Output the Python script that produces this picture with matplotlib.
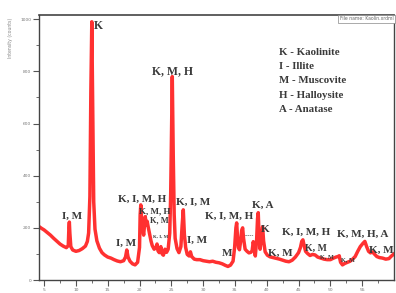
import matplotlib
matplotlib.use("Agg")
import matplotlib.pyplot as plt

two_theta = [4.2, 4.6, 5.0, 5.5, 6.0, 6.5, 7.0, 7.5, 8.0, 8.5, 8.8, 8.9, 8.97, 9.05, 9.2, 9.5,
             10.0, 10.5, 11.0, 11.5, 11.8, 12.0, 12.2, 12.35, 12.5, 12.65, 12.8, 13.0, 13.3,
             13.7, 14.1, 14.5, 15.0, 15.5, 16.0, 16.5, 17.0, 17.5, 17.8, 18.0, 18.2, 18.5,
             18.9, 19.3, 19.7, 20.0, 20.1, 20.2, 20.35, 20.5, 20.65, 20.8, 20.9, 21.05,
             21.2, 21.35, 21.6, 21.8, 22.0, 22.3, 22.6, 22.75, 22.9, 23.1, 23.35, 23.55,
             23.75, 24.0, 24.25, 24.5, 24.75, 24.9, 25.05, 25.15, 25.3, 25.45, 25.6, 25.9,
             26.2, 26.5, 26.7, 26.88, 27.05, 27.25, 27.5, 27.8, 28.0, 28.2, 28.6, 29.0,
             29.5, 30.0, 30.5, 31.0, 31.5, 32.0, 32.5, 33.0, 33.5, 33.9, 34.3, 34.7, 34.95,
             35.15, 35.27, 35.4, 35.55, 35.71, 35.9, 36.05, 36.21, 36.35, 36.6, 36.9, 37.2,
             37.5, 37.7, 37.88, 38.05, 38.2, 38.4, 38.55, 38.66, 38.8, 38.95, 39.15, 39.35,
             39.5, 39.75, 40.1, 40.5, 41.0, 41.5, 42.0, 42.5, 43.0, 43.5, 44.0, 44.5, 45.0,
             45.3, 45.5, 45.68, 45.85, 46.1, 46.4, 46.8, 47.2, 47.6, 48.0, 48.5, 49.0, 49.5,
             50.0, 50.5, 50.9, 51.2, 51.39, 51.6, 51.9, 52.3, 52.7, 53.1, 53.5, 53.9, 54.3,
             54.7, 55.1, 55.42, 55.7, 56.0, 56.3, 56.6, 56.9, 57.3, 57.7, 58.2, 58.7, 59.2,
             59.6, 60.0]
counts = [205, 198, 192, 182, 172, 160, 149, 138, 130, 124, 132, 200, 222, 180, 128, 115,
          110, 113, 120, 130, 148, 180, 320, 720, 990, 640, 300, 195, 150,
          122, 105, 96, 88, 84, 78, 73, 70, 74, 88, 115, 88, 72,
          62, 58, 68, 125, 250, 288, 225, 192, 172, 215, 243, 212,
          225, 205, 175, 150, 132, 118, 125, 138, 112, 105, 128, 100,
          95, 118, 106, 118, 180, 330, 620, 780, 480, 250, 160, 120,
          105, 128, 210, 269, 175, 125, 98, 92, 108, 90, 80, 78,
          78, 74, 72, 70, 72, 68, 66, 62, 56, 52, 57, 72, 125,
          200, 219, 165, 125, 116, 150, 190, 200, 160, 118, 110, 104,
          106, 112, 147, 120, 92, 150, 235, 258, 165, 118, 160, 204,
          150, 108, 95, 89, 86, 83, 80, 76, 72, 70, 76, 88, 105,
          125, 148, 154, 135, 110, 102, 94, 98, 96, 88, 84, 80, 78,
          78, 84, 88, 90, 93, 68, 58, 64, 68, 72, 80, 90, 110,
          128, 140, 148, 128, 110, 104, 108, 100, 90, 86, 84, 80, 82,
          92, 100]

x_ticks = [5, 10, 15, 20, 25, 30, 35, 40, 45, 50, 55]
y_ticks = [0, 200, 400, 600, 800, 1000]

legend_lines = ["K - Kaolinite", "I - Illite", "M - Muscovite", "H - Halloysite", "A - Anatase"]

# (label, 2theta, intensity, fontsize)
peak_labels = [
    ("K", 13.6, 974, 8.5),
    ("K, M, H", 25.26, 802, 8.5),
    ("I, M", 9.4, 246, 8.0),
    ("I, M", 17.88, 142, 8.0),
    ("K, I, M, H", 20.39, 311, 8.0),
    ("K, M, H", 22.44, 262, 6.5),
    ("K, M", 23.06, 227, 6.0),
    ("K, I, M", 23.38, 166, 3.5),
    ("K, I, M", 28.41, 296, 8.0),
    ("I, M", 29.03, 154, 8.0),
    ("K, I, M, H", 34.06, 243, 8.0),
    ("M", 33.75, 101, 8.0),
    ("-----", 37.36, 170, 4.0),
    ("K, A", 39.4, 288, 8.0),
    ("K", 39.72, 193, 8.0),
    ("K, M", 42.07, 104, 8.0),
    ("K, I, M, H", 46.16, 181, 8.0),
    ("K, M", 47.73, 120, 7.0),
    ("K, M", 49.46, 89, 4.5),
    ("K, M", 52.75, 77, 4.5),
    ("K, M, H, A", 55.11, 174, 8.0),
    ("K, M", 57.94, 112, 8.0),
]

fig = plt.figure(figsize=(3.96, 2.93), dpi=100)
ax = fig.add_axes([39 / 396, 1 - 280 / 293, (394 - 39) / 396, (280 - 15) / 293])

ax.plot(two_theta, counts, color="#ff1a1a", lw=2.5, alpha=0.9, solid_joinstyle="round")

ax.set_xlim(4.2, 60)
ax.set_ylim(0, 1016)
ax.set_xticks(x_ticks)
ax.set_xticklabels([str(t) for t in x_ticks])
ax.set_xticks([t + 2.5 for t in x_ticks], minor=True)
ax.set_yticks(y_ticks)
ax.set_yticklabels([str(t) for t in y_ticks])
ax.set_yticks([t + 100 for t in y_ticks[:-1]] + [1000], minor=True)
ax.tick_params(axis="both", which="major", length=4, width=0.8, labelsize=3.2,
               labelcolor="#777777", color="#555555", pad=1.5)
ax.tick_params(axis="both", which="minor", length=2.5, width=0.6, color="#555555")
for s in ax.spines.values():
    s.set_color("#444444")
    s.set_linewidth(1.0)
ax.spines["top"].set_linewidth(1.2)

serif = ["Liberation Serif", "DejaVu Serif"]
for lab, x, y, fs in peak_labels:
    ax.text(x, y, lab, fontsize=fs, family=serif, fontweight="bold", color="#3a3a3a",
            ha="center", va="center")

for i, line in enumerate(legend_lines):
    ax.text(41.9, 871 - i * 54, line, fontsize=7.8, family=serif, fontweight="bold",
            color="#3a3a3a", ha="left", va="center")

ax.text(0.998, 0.995, "File name: Kaolin.xrdml", transform=ax.transAxes, fontsize=3.3,
        color="#666666", ha="right", va="top",
        bbox=dict(boxstyle="square,pad=0.3", fc="white", ec="#888888", lw=0.5))

fig.text(11 / 396, 1 - 38 / 293, "Intensity (counts)", rotation=90, fontsize=3.3,
         color="#888888", ha="center", va="center")

fig.savefig("out.png", dpi=100)
